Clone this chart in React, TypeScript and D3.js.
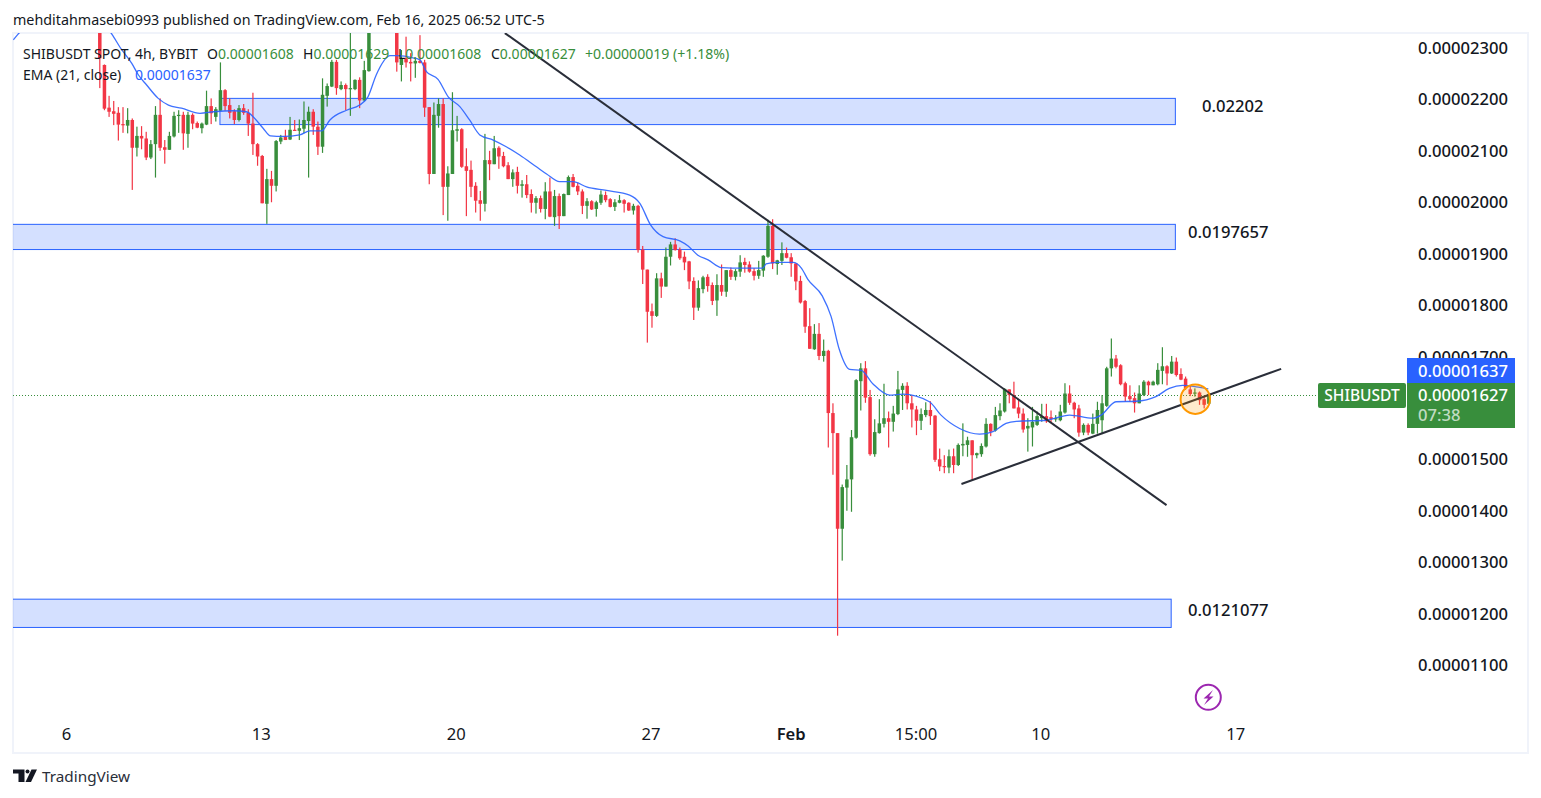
import React, { useEffect, useRef } from "react";
import { select, axisRight, axisBottom, scaleLinear, line, curveMonotoneX } from "d3";

// prices are in units of 0.00000001, x is the candle number
const opens = [
  2340,2267,2184,2177,2174,2152,2149,2160,2106,2129,
  2124,2087,2113,2170,2107,2102,2128,2169,2170,2133,
  2170,2154,2144,2151,2187,2166,2178,2218,2189,2177,
  2160,2183,2174,2153,2113,2090,1997,2045,2032,2118,
  2128,2122,2141,2139,2143,2158,2176,2147,2108,2207,
  2225,2273,2220,2228,2220,2220,2238,2198,2255,2345,
  2370,2360,2375,2355,2345,2267,2280,2273,2270,2275,
  2272,2185,2055,2168,2191,2030,2055,2139,2142,2070,
  2063,2032,2004,1997,2082,2074,2106,2090,2072,2045,
  2059,2032,2035,2016,1999,2008,1987,2021,1971,2012,
  1973,2014,2049,2032,2021,1993,2002,1987,1999,2014,
  2006,1991,1999,2004,1999,1984,1993,1908,1869,1788,
  1779,1852,1836,1894,1918,1908,1894,1885,1847,1795,
  1831,1855,1839,1809,1839,1826,1868,1855,1865,1884,
  1879,1866,1857,1867,1894,1954,1880,1886,1901,1893,
  1881,1847,1808,1759,1714,1744,1701,1711,1590,1551,
  1365,1445,1461,1542,1652,1677,1621,1510,1551,1569,
  1580,1573,1588,1635,1643,1609,1597,1575,1586,1596,
  1585,1500,1487,1484,1506,1489,1527,1528,1537,1508,
  1510,1525,1569,1556,1584,1593,1636,1625,1601,1589,
  1560,1562,1567,1580,1584,1582,1578,1576,1591,1628,
  1610,1599,1552,1567,1550,1569,1576,1604,1677,1696,
  1683,1648,1623,1619,1609,1625,1651,1644,1646,1672,
  1681,1667,1690,1666,1657,1636,1628,1630,1617,1608,
];
const closes = [
  2280,2182,2176,2172,2151,2150,2160,2106,2129,2124,
  2087,2113,2170,2106,2102,2129,2168,2170,2134,2170,
  2153,2145,2153,2187,2173,2181,2218,2187,2174,2160,
  2183,2174,2153,2113,2089,1998,2045,2032,2119,2126,
  2121,2141,2139,2144,2160,2176,2147,2108,2209,2226,
  2273,2222,2228,2220,2222,2238,2198,2257,2345,2370,
  2360,2375,2355,2345,2272,2280,2272,2270,2275,2271,
  2184,2055,2170,2191,2030,2056,2140,2142,2069,2061,
  2030,2003,1997,2082,2074,2105,2089,2070,2045,2058,
  2032,2035,2014,1999,2008,1987,2021,1972,2012,1973,
  2016,2049,2030,2021,1993,2002,1986,2000,2015,2004,
  1991,2000,2004,1997,1984,1993,1907,1869,1787,1779,
  1852,1836,1894,1918,1907,1891,1883,1846,1795,1833,
  1854,1837,1808,1839,1826,1868,1855,1866,1883,1878,
  1865,1857,1868,1896,1954,1881,1887,1901,1892,1881,
  1846,1805,1758,1715,1744,1701,1711,1590,1551,1365,
  1446,1461,1543,1654,1677,1620,1510,1553,1570,1580,
  1573,1589,1636,1643,1609,1597,1575,1588,1596,1584,
  1499,1486,1485,1506,1489,1528,1530,1537,1508,1512,
  1526,1569,1554,1586,1595,1637,1625,1599,1589,1558,
  1565,1573,1584,1584,1574,1578,1580,1593,1628,1610,
  1597,1552,1567,1552,1569,1596,1609,1677,1696,1680,
  1646,1622,1617,1609,1628,1651,1644,1651,1674,1681,
  1667,1690,1664,1655,1638,1627,1630,1615,1606,1627,
];
const highs = [
  2350,2268,2207,2197,2185,2185,2183,2163,2147,2148,
  2137,2121,2187,2202,2121,2137,2176,2179,2176,2176,
  2173,2157,2155,2217,2202,2185,2272,2220,2202,2181,
  2189,2191,2181,2213,2115,2092,2065,2061,2121,2131,
  2141,2166,2160,2161,2196,2186,2181,2157,2241,2231,
  2277,2277,2235,2231,2340,2239,2243,2275,2360,2380,
  2395,2385,2390,2370,2360,2296,2322,2290,2280,2325,
  2277,2185,2194,2202,2202,2070,2214,2168,2144,2105,
  2081,2039,2022,2133,2100,2129,2109,2098,2078,2064,
  2069,2043,2053,2025,2012,2013,2039,2048,2024,2017,
  2017,2052,2055,2038,2025,2008,2004,2003,2023,2021,
  2008,2006,2014,2006,2000,1997,1995,1915,1869,1803,
  1862,1863,1912,1923,1930,1912,1904,1886,1854,1848,
  1857,1860,1844,1860,1879,1868,1873,1870,1897,1892,
  1885,1872,1886,1897,1966,1967,1888,1922,1912,1901,
  1881,1857,1810,1794,1763,1765,1733,1713,1609,1551,
  1451,1489,1557,1656,1687,1691,1635,1578,1617,1647,
  1593,1604,1672,1648,1650,1625,1604,1599,1611,1613,
  1586,1521,1508,1519,1521,1531,1570,1544,1537,1513,
  1531,1580,1570,1602,1609,1638,1636,1651,1615,1599,
  1580,1602,1593,1608,1608,1595,1586,1606,1648,1644,
  1612,1606,1570,1570,1589,1612,1625,1680,1735,1703,
  1685,1651,1644,1630,1644,1654,1653,1653,1687,1718,
  1683,1701,1698,1677,1661,1644,1638,1632,1622,1629,
];
const lows = [
  2222,2179,2166,2150,2120,2135,2134,2024,2089,2103,
  2082,2084,2048,2100,2075,2102,2126,2135,2102,2106,
  2142,2144,2134,2150,2152,2157,2178,2178,2163,2152,
  2157,2170,2129,2092,2071,1998,1958,2000,2021,2113,
  2121,2121,2139,2121,2134,2048,2131,2092,2096,2186,
  2224,2209,2218,2179,2168,2218,2183,2196,2254,2340,
  2355,2345,2350,2340,2254,2235,2262,2235,2242,2270,
  2166,2035,2055,2145,1975,1964,2055,2118,2067,1973,
  2010,1980,1964,1982,2043,2074,2065,2068,2045,2030,
  2017,2009,2008,1980,1978,1980,1967,1971,1954,1948,
  1973,2014,2029,2014,1977,1968,1985,1972,1995,2000,
  1990,1983,1998,1980,1983,1976,1902,1841,1727,1756,
  1777,1814,1836,1877,1906,1888,1868,1831,1771,1789,
  1823,1826,1800,1779,1818,1816,1849,1848,1855,1863,
  1863,1848,1851,1855,1892,1870,1859,1878,1891,1855,
  1829,1803,1746,1715,1713,1693,1690,1523,1470,1157,
  1303,1400,1398,1540,1595,1610,1507,1505,1550,1562,
  1523,1554,1586,1596,1597,1562,1547,1557,1582,1567,
  1495,1477,1473,1473,1473,1487,1506,1505,1460,1502,
  1505,1523,1545,1554,1576,1591,1609,1599,1580,1552,
  1515,1525,1565,1573,1571,1571,1573,1574,1589,1606,
  1580,1544,1547,1547,1549,1550,1549,1602,1661,1677,
  1644,1612,1612,1591,1609,1623,1625,1644,1644,1646,
  1644,1666,1661,1654,1635,1623,1622,1606,1599,1608,
];

const emaIndex = [
  -18.5,-17.5,-14,-10,-4,2.7,4.5,7,8.4,10.2,12.7,14.9,17.7,21.7,24.6,28.9,31.7,33.5,35.3,36.9,
  39.6,43.2,45.4,47.9,49.7,53.3,56.1,57.9,59.7,62.7,64,67.6,69.1,70.5,73,75.2,77.7,79.8,82,84.9,
  87.7,90.6,94.2,96.4,99.2,102.1,105,109.3,114.3,116.5,118.8,121.5,125.1,126.9,129,131.2,134.1,138.7,143,143.7,
  145.9,149.5,151.3,152.7,155.8,157.7,159.5,161.7,164.2,166.7,170.3,173.2,178.9,181.4,185.4,189.7,192.6,195.4,197.6,204,
  209.1,214.1,215.9,219.1,223.4,227.7,230.6,233.5,236.4,239,
];
const emaValues = [
  2316,2327,2350,2390,2370,2327,2301,2270,2248,2228,2202,2189,2183,2173,2176,2178,2176,2163,2144,2129,
  2128,2131,2139,2139,2160,2179,2189,2205,2248,2285,2285,2281,2277,2254,2239,2205,2186,2160,2131,2121,
  2108,2092,2069,2055,2040,2040,2030,2023,2014,1998,1956,1933,1925,1915,1897,1888,1873,1872,1872,1880,
  1883,1883,1872,1850,1818,1778,1713,1675,1673,1647,1625,1627,1612,1586,1560,1549,1554,1570,1574,1576,
  1586,1580,1586,1612,1613,1622,1638,1644,1641,1637,
];

// 0.00001600 sits behind the green price tag in the picture, so it is not listed
const priceTicks = [2300,2200,2100,2000,1900,1800,1700,1500,1400,1300,1200,1100];
const timeTickIndex = [-7.2,34.8,76.8,118.8,149,175.9,202.8,244.8];
const timeTickLabels = ["6","13","20","27","Feb","15:00","10","17"];

const zoneStart = [26,-20,-20];
const zoneEnd = [231.9,231.9,231];
const zoneTop = [2203,1958,1229];
const zoneBottom = [2152,1909,1174];
const zoneLabels = ["0.02202","0.0197657","0.0121077"];
const zoneLabelX = [1202,1188,1188];
const zoneLabelPrice = [2175,1930,1196];

const trendFrom = [[87.4,2329],[185.8,1452]];
const trendTo = [[230,1411],[254.7,1676]];

const legendNames = ["O","H","L","C"];
const legendValues = ["0.00001608","0.00001629","0.00001608","0.00001627"];
const legendX = [207,303,398,491];
const lastPrice = 1627;
const emaLast = 1637;

const GREEN = "#388e3c";
const RED = "#f23645";
const BLUE = "#2962ff";
const INK = "#131722";
const FONT = "'Noto Sans', sans-serif";

const fmt = (p: number) => (p / 1e8).toFixed(8);

function App() {
  const priceRef = useRef<SVGGElement>(null);
  const timeRef = useRef<SVGGElement>(null);

  const x = scaleLinear().domain([0, 239]).range([99.3, 1208.3]);
  const y = scaleLinear().domain([1100, 2300]).range([665, 48]);

  useEffect(() => {
    const price = select(priceRef.current);
    price.call(axisRight(y).tickValues(priceTicks).tickFormat((d: any) => fmt(d)).tickSize(0).tickPadding(0) as any);
    price.select(".domain").remove();
    price.selectAll("text").attr("font-family", FONT).attr("font-size", 16.6).attr("font-weight", 500).attr("fill", INK);

    const time = select(timeRef.current);
    time.call(
      axisBottom(x).tickValues(timeTickIndex).tickFormat((d: any, i: number) => timeTickLabels[i]).tickSize(0).tickPadding(0) as any
    );
    time.select(".domain").remove();
    time.selectAll("text").attr("font-family", FONT).attr("font-size", 16.6).attr("fill", INK)
      .attr("font-weight", (d: any, i: number) => (timeTickLabels[i] === "Feb" ? 600 : 400));
  }, []);

  const emaLine = line<number>()
    .x((d, i) => x(emaIndex[i]))
    .y((d) => y(d))
    .curve(curveMonotoneX);

  const lastY = Math.round(y(lastPrice)) + 1.5;

  return (
    <svg width={1541} height={798} style={{ position: "absolute", left: 0, top: 0, background: "#fff" }}>
      <defs>
        <clipPath id="pane">
          <rect x={13} y={33} width={1394} height={720} />
        </clipPath>
      </defs>

      <text x={13} y={25} fontFamily={FONT} fontSize={14.3} fill={INK}>
        mehditahmasebi0993 published on TradingView.com, Feb 16, 2025 06:52 UTC-5
      </text>

      <rect x={13} y={33} width={1515} height={720} fill="none" stroke="#f0f3fa" strokeWidth={2} />

      <g clipPath="url(#pane)">
        <line
          x1={13}
          x2={1318}
          y1={lastY}
          y2={lastY}
          stroke={GREEN}
          strokeWidth={1}
          strokeDasharray="1 2"
          shapeRendering="crispEdges"
        />

        {zoneTop.map((top, i) => (
          <rect
            key={i}
            x={x(zoneStart[i])}
            y={y(top) + 0.5}
            width={x(zoneEnd[i]) - x(zoneStart[i])}
            height={y(zoneBottom[i]) - y(top)}
            fill={BLUE}
            fillOpacity={0.2}
            stroke={BLUE}
            strokeWidth={1}
          />
        ))}

        {opens.map((open, i) => {
          const close = closes[i];
          const color = close >= open ? GREEN : RED;
          const cx = x(i);
          const top = y(Math.max(open, close));
          const bottom = y(Math.min(open, close));
          return (
            <g key={i} fill={color}>
              <rect x={cx - 0.1} y={y(highs[i])} width={1.2} height={y(lows[i]) - y(highs[i])} />
              <rect x={cx - 1.25} y={top} width={3.5} height={Math.max(bottom - top, 1.2)} />
            </g>
          );
        })}

        <path d={emaLine(emaValues) as string} fill="none" stroke={BLUE} strokeWidth={1.3} opacity={0.9} />

        {trendFrom.map((from, i) => (
          <line
            key={i}
            x1={x(from[0])}
            y1={y(from[1])}
            x2={x(trendTo[i][0])}
            y2={y(trendTo[i][1])}
            stroke="#2a2e39"
            strokeWidth={2}
          />
        ))}

        <circle cx={x(236.2)} cy={y(1617)} r={14.7} fill="#ff9800" fillOpacity={0.2} stroke="#ff9800" strokeWidth={2} />
      </g>

      <g fontFamily={FONT} fontSize={14}>
        <text x={23} y={59} fill={INK}>SHIBUSDT SPOT, 4h, BYBIT</text>
        {legendNames.map((name, i) => (
          <text key={name} x={legendX[i]} y={59} fill={INK}>
            {name}
            <tspan fill={GREEN}>{legendValues[i]}</tspan>
          </text>
        ))}
        <text x={585} y={59} fontSize={14.1} fill={GREEN}>+0.00000019 (+1.18%)</text>
        <text x={23} y={80} fill={INK}>EMA (21, close)</text>
        <text x={135} y={80} fill={BLUE}>{fmt(emaLast)}</text>
      </g>

      {zoneLabels.map((label, i) => (
        <text
          key={label}
          x={zoneLabelX[i]}
          y={y(zoneLabelPrice[i])}
          fontFamily={FONT}
          fontSize={16.6}
          fontWeight={500}
          fill={INK}
        >
          {label}
        </text>
      ))}

      <g ref={priceRef} transform="translate(1418,0.2)" />
      <g ref={timeRef} transform="translate(0,728)" />

      <rect x={1318} y={383} width={88} height={25} rx={2} fill={GREEN} />
      <text x={1362} y={401} textAnchor="middle" fontFamily={FONT} fontSize={15.5} fontWeight={500} fill="#fff">SHIBUSDT</text>
      <rect x={1407} y={358} width={108} height={25} fill={BLUE} />
      <text x={1418} y={377} fontFamily={FONT} fontSize={16.6} fontWeight={500} fill="#fff">{fmt(emaLast)}</text>
      <rect x={1407} y={383} width={108} height={45} fill={GREEN} />
      <text x={1418} y={401} fontFamily={FONT} fontSize={16.6} fontWeight={500} fill="#fff">{fmt(lastPrice)}</text>
      <text x={1418} y={421} fontFamily={FONT} fontSize={16.6} fontWeight={500} fill="#fff" fillOpacity={0.7}>07:38</text>

      <circle cx={1208.3} cy={697.3} r={12.5} fill="#fff" stroke="#9c27b0" strokeWidth={2} />
      <path d="M1213 690 L1203.5 698.5 H1208 L1204 705 L1213.5 696.5 H1209 Z" fill="#9c27b0" />

      <g fill={INK}>
        <path d="M13 769.5 H24.5 V782 H18.5 V773.5 H13 Z" />
        <circle cx={27.5} cy={771.5} r={2} />
        <path d="M37 769.5 L31 782 H25.5 L31.5 769.5 Z" />
      </g>
      <text x={42} y={782} fontFamily={FONT} fontSize={15.3} fill="#2a2e39">TradingView</text>
    </svg>
  );
}

export default App;
